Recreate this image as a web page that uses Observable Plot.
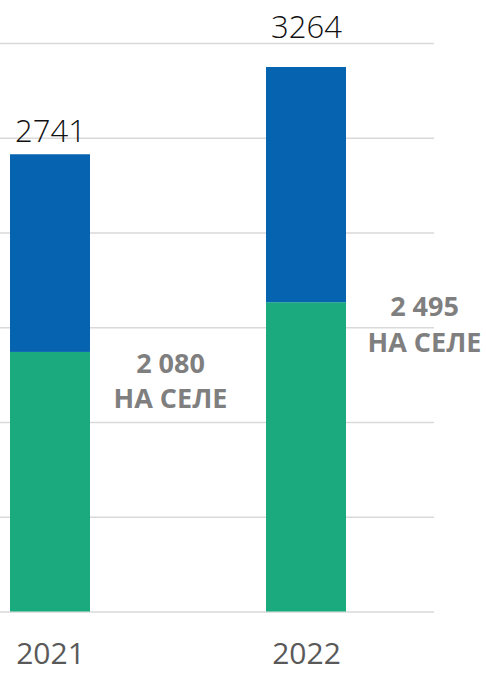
<!DOCTYPE html>
<html>
<head>
<meta charset="utf-8">
<script src="https://cdn.jsdelivr.net/npm/d3@7"></script>
<script src="https://cdn.jsdelivr.net/npm/@observablehq/plot@0.6"></script>
<style>
  html, body { margin: 0; padding: 0; background: #fff; }
  #chart svg { display: block; }
</style>
</head>
<body>
<div id="chart"></div>
<script>
// Data
const years = ["2021", "2022"];
const totals = [2741, 3264];              // labelled bar totals
const villageBar = [1556, 1854];          // green segment heights (as drawn)
const villageLabels = ["2 080", "2 495"]; // annotation numbers
const villageText = "НА СЕЛЕ";
const gridValues = [0, 568, 1136, 1704, 2272, 2840, 3408];

const parts = ["село", "град"];
const colors = ["#1BAA7E", "#0563AF"];

const rows = [];
years.forEach((y, i) => {
  rows.push({year: y, part: parts[0], value: villageBar[i]});
  rows.push({year: y, part: parts[1], value: totals[i] - villageBar[i]});
});
const totalRows = years.map((y, i) => ({year: y, total: totals[i]}));
const annoRows = years.map((y, i) => ({year: y, v: villageBar[i], text: villageLabels[i] + "\n" + villageText}));

const totalDy = [-13, -30];
const annoDx = [120, 118];
const annoDy = [-5, -12];

const marks = [
  Plot.ruleY(gridValues, {stroke: "#D9D9D9", strokeWidth: 1.5}),
  Plot.barY(rows, Plot.stackY({x: "year", y: "value", fill: "part", order: parts})),
  Plot.axisX({tickSize: 0, tickPadding: 31, fontSize: 30, color: "#595959", label: null})
];
years.forEach((y, i) => {
  marks.push(Plot.text(totalRows.filter(d => d.year === y), {
    x: "year", y: "total", text: d => String(d.total),
    lineAnchor: "bottom", dy: totalDy[i], fontSize: 31, fill: "#111", fontWeight: 300
  }));
  marks.push(Plot.text(annoRows.filter(d => d.year === y), {
    x: "year", y: "v", text: "text",
    lineAnchor: "top", dx: annoDx[i], dy: annoDy[i], fontSize: 27, fontWeight: "bold",
    fill: "#7F7F7F", lineHeight: 1.32
  }));
});

const chart = Plot.plot({
  width: 486,
  height: 674,
  marginLeft: 0,
  marginRight: 52,
  marginTop: 43,
  marginBottom: 62.5,
  style: {fontFamily: "'Open Sans', 'DejaVu Sans', sans-serif", background: "#fff", overflow: "visible"},
  x: {type: "band", domain: years, range: [10, 346], paddingInner: 0.6875, paddingOuter: 0, axis: null, label: null},
  y: {domain: [0, 3408], axis: null},
  color: {domain: parts, range: colors},
  marks
});
document.getElementById("chart").appendChild(chart);
</script>
</body>
</html>
